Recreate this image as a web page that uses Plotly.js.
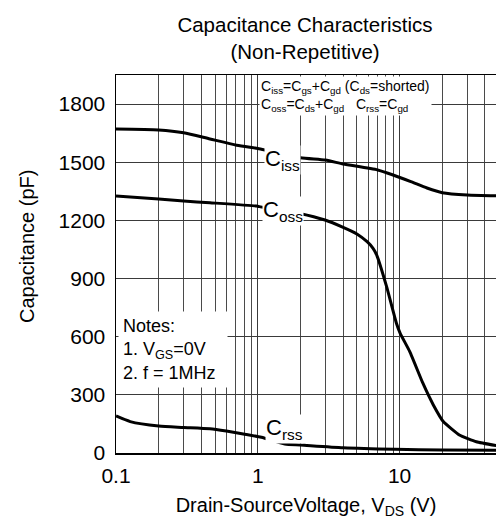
<!DOCTYPE html>
<html>
<head>
<meta charset="utf-8">
<script src="https://cdn.plot.ly/plotly-3.0.1.min.js"></script>
<style>html,body{margin:0;padding:0;background:#fff;}#chart{width:496px;height:522px;}</style>
</head>
<body>
<div id="chart"></div>
<script>
// Drain-source voltage (V) and capacitance (pF)
const cissV = [0.1, 0.2, 0.3, 0.46, 0.71, 1.0, 1.13, 2.0, 3.0, 4.0, 7.0, 9.0, 12, 15.6, 20, 30, 48];
const cissC = [1671, 1666, 1652, 1620, 1588, 1571, 1563, 1523, 1511, 1491, 1460, 1434, 1400, 1367, 1343, 1331, 1327];

const cossV = [0.1, 0.2, 0.3, 0.46, 0.98, 1.03, 1.98, 2.98, 4.0, 5.0, 5.9, 6.5, 6.9, 8.1, 9.5, 10.1, 11.8, 14.6, 17.3, 20.4, 26.4, 34.8, 48];
const cossC = [1326, 1310, 1300, 1291, 1274, 1271, 1236, 1202, 1164, 1130, 1090, 1056, 1021, 858, 669, 617, 523, 360, 248, 161, 93, 58, 38];

const crssV = [0.1, 0.126, 0.2, 0.3, 0.46, 0.6, 0.79, 1.06, 1.55, 2.0, 4.0, 9.3, 20, 48];
const crssC = [191, 162, 139, 132, 125, 113, 98, 81, 46, 41, 27, 19, 15, 14];

// Axis ticks
const xTickVals = [0.1, 1, 10];
const xTickText = ['0.1', '1', '10'];
const xGridVals = [0.2,0.3,0.4,0.5,0.6,0.7,0.8,0.9,2,3,4,5,6,7,8,9,20,30,40];
const yTickVals = [0, 300, 600, 900, 1200, 1500, 1800];

const FONT = 'Liberation Sans, Arial, Helvetica, sans-serif';
const line = {color: '#000', width: 3, shape: 'spline', smoothing: 0.6};

const traces = [
  {x: cissV, y: cissC, mode: 'lines', line: line, hoverinfo: 'skip'},
  {x: cossV, y: cossC, mode: 'lines', line: Object.assign({}, line, {smoothing: 0.4}), hoverinfo: 'skip'},
  {x: crssV, y: crssC, mode: 'lines', line: line, hoverinfo: 'skip'}
];

const L = 116, R = 496, T = 75, B = 453;
const px = v => (v - L) / (R - L);
const py = v => (B - v) / (B - T);

const layout = {
  width: 496, height: 522,
  margin: {l: L, r: 496 - R, t: T, b: 522 - B, pad: 0},
  paper_bgcolor: '#fff', plot_bgcolor: '#fff',
  showlegend: false,
  font: {family: FONT, color: '#000', size: 21},
  title: {
    text: 'Capacitance Characteristics<br>(Non-Repetitive)',
    font: {family: FONT, size: 20.5, color: '#000'},
    x: 305 / 496, xref: 'container', xanchor: 'center',
    y: 1 - 32 / 522, yref: 'container', yanchor: 'middle'
  },
  xaxis: {
    type: 'log', range: [-1, 1.68],
    tickvals: xTickVals, ticktext: xTickText,
    showgrid: true, gridcolor: '#3a3a3a', gridwidth: 1,
    minor: {tickvals: xGridVals, showgrid: true, gridcolor: '#4a4a4a', gridwidth: 1, ticks: ''},
    showline: true, linecolor: '#000', linewidth: 1.5, mirror: true,
    ticks: 'outside', ticklen: 3, tickcolor: 'rgba(0,0,0,0)',
    tickfont: {family: FONT, size: 21, color: '#000'},
    zeroline: false,
    title: {text: 'Drain-SourceVoltage, V<sub>DS</sub> (V)', font: {family: FONT, size: 20, color: '#000'}, standoff: 12}
  },
  yaxis: {
    range: [0, 1950],
    tickvals: yTickVals,
    showgrid: true, gridcolor: '#3a3a3a', gridwidth: 1,
    showline: true, linecolor: '#000', linewidth: 1.5, mirror: true,
    ticks: 'outside', ticklen: 5, tickcolor: 'rgba(0,0,0,0)',
    tickfont: {family: FONT, size: 21, color: '#000'},
    zeroline: false
  },
  annotations: [
    {text: 'Capacitance (pF)', textangle: -90, xref: 'paper', yref: 'paper',
     x: px(27), y: py(247), xanchor: 'center', yanchor: 'middle', showarrow: false,
     font: {family: FONT, size: 20, color: '#000'}},
    {text: 'C<sub>iss</sub>=C<sub>gs</sub>+C<sub>gd</sub> (C<sub>ds</sub>=shorted)<br>C<sub>oss</sub>=C<sub>ds</sub>+C<sub>gd</sub>\u00a0\u00a0\u00a0C<sub>rss</sub>=C<sub>gd</sub>',
     xref: 'paper', yref: 'paper', x: px(259), y: py(76), xanchor: 'left', yanchor: 'top',
     align: 'left', showarrow: false, bgcolor: '#fff', borderpad: 1,
     font: {family: FONT, size: 14, color: '#000'}},
    {text: 'Notes:<br>1. V<sub>GS</sub>=0V<br>2. f = 1MHz',
     xref: 'paper', yref: 'paper', x: px(118), y: py(349), xanchor: 'left', yanchor: 'middle',
     align: 'left', width: 100, showarrow: false, bgcolor: '#fff', borderpad: 4,
     font: {family: FONT, size: 18, color: '#000'}},
    {text: 'C<sub>iss</sub>', xref: 'paper', yref: 'paper', x: px(264), y: py(160),
     xanchor: 'left', yanchor: 'middle', showarrow: false, bgcolor: '#fff', borderpad: 0,
     font: {family: FONT, size: 22, color: '#000'}},
    {text: 'C<sub>oss</sub>', xref: 'paper', yref: 'paper', x: px(262), y: py(211),
     xanchor: 'left', yanchor: 'middle', showarrow: false, bgcolor: '#fff', borderpad: 0,
     font: {family: FONT, size: 22, color: '#000'}},
    {text: 'C<sub>rss</sub>', xref: 'paper', yref: 'paper', x: px(265), y: py(429),
     xanchor: 'left', yanchor: 'middle', showarrow: false, bgcolor: '#fff', borderpad: 0,
     font: {family: FONT, size: 22, color: '#000'}}
  ]
};

Plotly.newPlot('chart', traces, layout, {staticPlot: true, displayModeBar: false});
</script>
</body>
</html>
